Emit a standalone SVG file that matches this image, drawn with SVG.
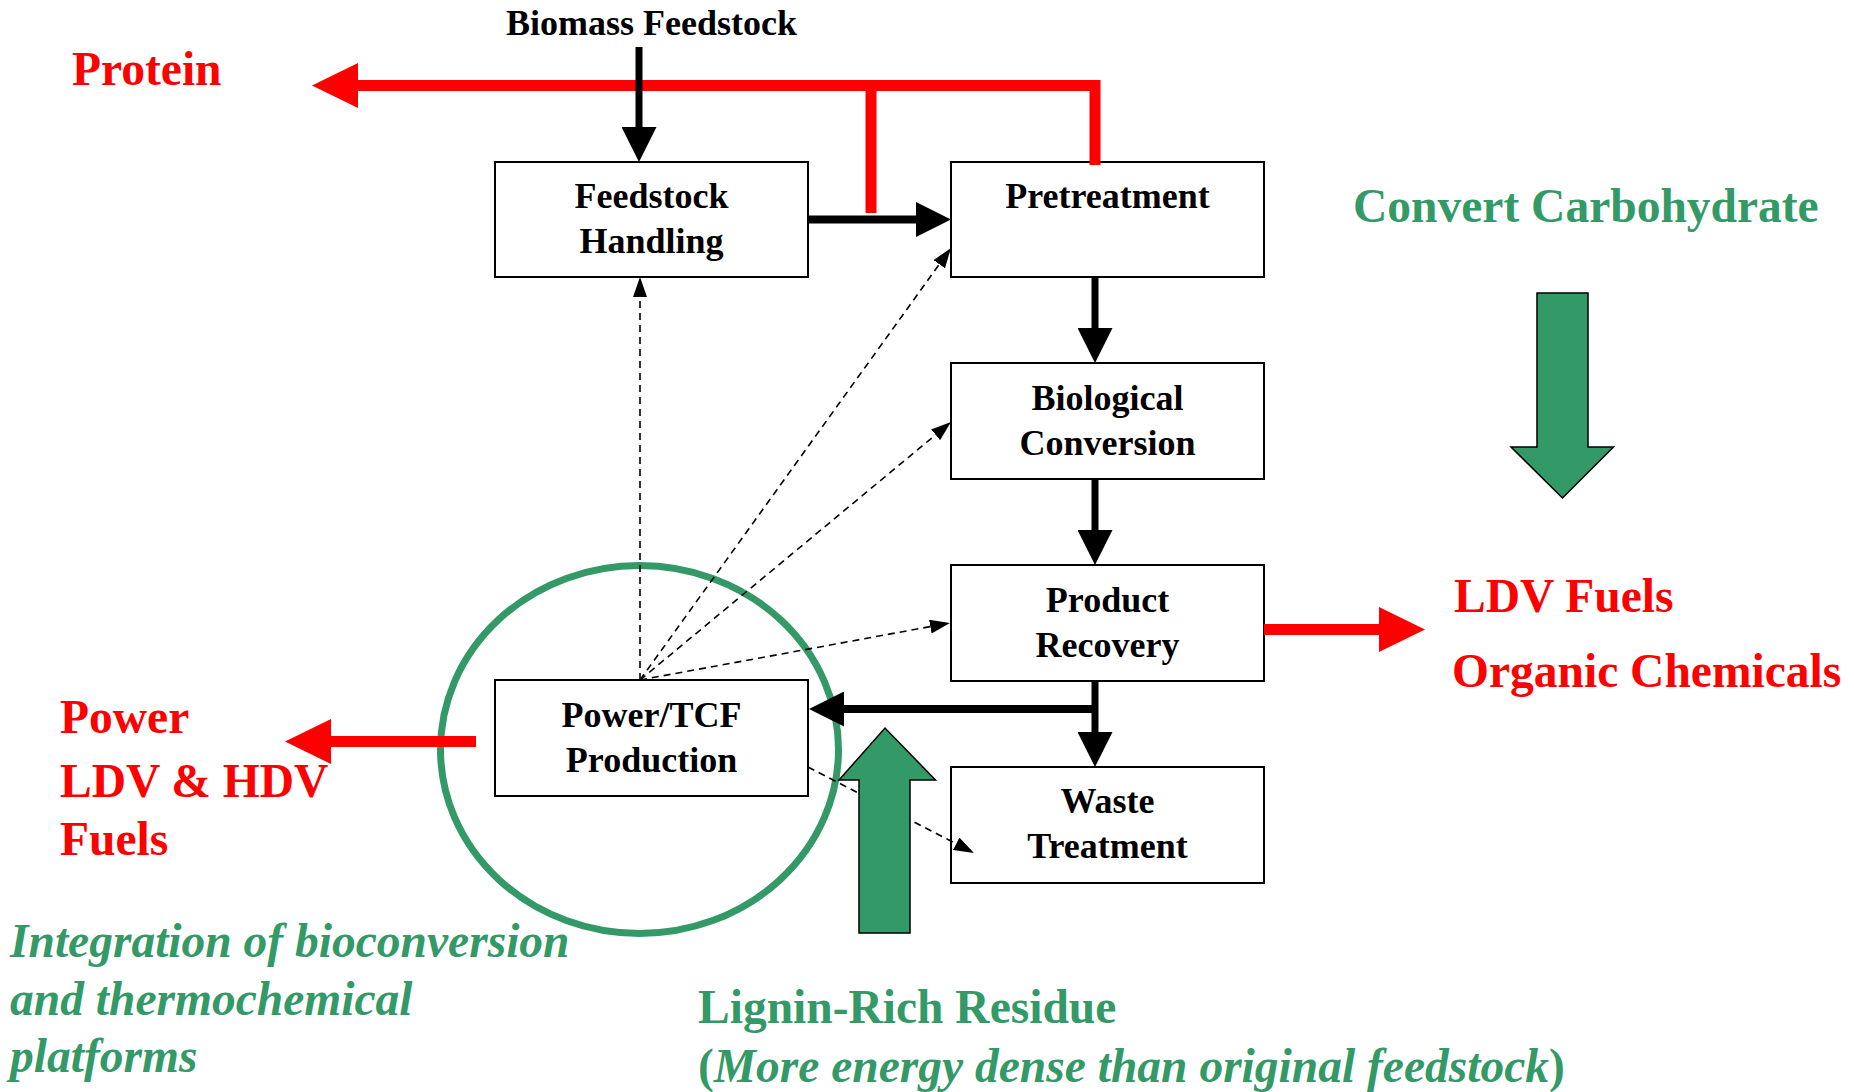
<svg xmlns="http://www.w3.org/2000/svg" width="1854" height="1092" viewBox="0 0 1854 1092">
<style>
.box{fill:#fff;stroke:#000;stroke-width:2}
.bt{font-family:"Liberation Serif","Times New Roman",serif;font-weight:bold;font-size:36px;fill:#000;text-anchor:middle}
.red{font-family:"Liberation Serif","Times New Roman",serif;font-weight:bold;font-size:47.5px;fill:#ff0000}
.grn{font-family:"Liberation Serif","Times New Roman",serif;font-weight:bold;font-size:47.5px;fill:#339966}
.it{font-style:italic}
.up{font-style:normal}
.solid{fill:none;stroke:#000;stroke-width:8}
.thin{fill:none;stroke:#000;stroke-width:7}
.rline{fill:none;stroke:#ff0000;stroke-width:11}
.dash{fill:none;stroke:#000;stroke-width:1.6;stroke-dasharray:7 5}
.garrow{fill:#339966;stroke:#000;stroke-width:1.5}
</style>
<defs>
<marker id="ab" viewBox="0 0 35 35" refX="0" refY="17.5" markerWidth="35" markerHeight="35" markerUnits="userSpaceOnUse" orient="auto">
<path d="M0,0 L35,17.5 L0,35 z" fill="#000"/>
</marker>
<marker id="ar" viewBox="0 0 46 45" refX="0" refY="22.5" markerWidth="46" markerHeight="45" markerUnits="userSpaceOnUse" orient="auto">
<path d="M0,0 L46,22.5 L0,45 z" fill="#ff0000"/>
</marker>
<marker id="ad" viewBox="0 0 20 14" refX="0" refY="7" markerWidth="20" markerHeight="14" markerUnits="userSpaceOnUse" orient="auto">
<path d="M0,0 L20,7 L0,14 z" fill="#000"/>
</marker>
</defs>
<rect width="1854" height="1092" fill="#fff"/>

<g id="feedstock-handling">
<rect class="box" x="495" y="162" width="313" height="115"/>
<text class="bt" x="651.5" y="208">Feedstock</text>
<text class="bt" x="651.5" y="253">Handling</text>
</g>
<g id="pretreatment">
<rect class="box" x="951" y="162" width="313" height="115"/>
<text class="bt" x="1107.5" y="208">Pretreatment</text>
</g>
<g id="biological-conversion">
<rect class="box" x="951" y="363" width="313" height="116"/>
<text class="bt" x="1107.5" y="410">Biological</text>
<text class="bt" x="1107.5" y="455">Conversion</text>
</g>
<g id="product-recovery">
<rect class="box" x="951" y="565" width="313" height="116"/>
<text class="bt" x="1107.5" y="612">Product</text>
<text class="bt" x="1107.5" y="657">Recovery</text>
</g>
<g id="waste-treatment">
<rect class="box" x="951" y="767" width="313" height="116"/>
<text class="bt" x="1107.5" y="813">Waste</text>
<text class="bt" x="1107.5" y="858">Treatment</text>
</g>
<g id="power-tcf-production">
<rect class="box" x="495" y="680" width="313" height="116"/>
<text class="bt" x="651.5" y="727">Power/TCF</text>
<text class="bt" x="651.5" y="772">Production</text>
</g>

<ellipse id="integration-circle" cx="639.5" cy="749.5" rx="199" ry="184" fill="none" stroke="#339966" stroke-width="7"/>

<g id="connectors">
<line class="dash" x1="640" y1="680" x2="640" y2="297" marker-end="url(#ad)"/>
<line class="dash" x1="640" y1="680" x2="939.3" y2="264.2" marker-end="url(#ad)"/>
<line class="dash" x1="640" y1="680" x2="935.6" y2="434.8" marker-end="url(#ad)"/>
<line class="dash" x1="640" y1="680" x2="930.3" y2="626.6" marker-end="url(#ad)"/>
<line class="dash" x1="808" y1="767" x2="956.2" y2="843.8" marker-end="url(#ad)"/>
<path class="rline" d="M1095,165 L1095,85.5 L358,85.5" marker-end="url(#ar)"/>
<line class="rline" x1="871" y1="85.5" x2="871" y2="213"/>
<line class="thin" x1="639" y1="47" x2="639" y2="127" marker-end="url(#ab)"/>
<line class="solid" x1="808" y1="219.5" x2="916" y2="219.5" marker-end="url(#ab)"/>
<line class="thin" x1="1095" y1="277" x2="1095" y2="328" marker-end="url(#ab)"/>
<line class="thin" x1="1095" y1="479" x2="1095" y2="530" marker-end="url(#ab)"/>
<line class="thin" x1="1095" y1="681" x2="1095" y2="732" marker-end="url(#ab)"/>
<line class="solid" x1="1095" y1="709" x2="844" y2="709" marker-end="url(#ab)"/>
<line class="rline" x1="476" y1="741.5" x2="331" y2="741.5" marker-end="url(#ar)"/>
<line class="rline" x1="1264" y1="629.5" x2="1379" y2="629.5" marker-end="url(#ar)"/>
</g>

<g id="convert-carbohydrate-arrow">
<polygon class="garrow" points="1537,293 1588,293 1588,447 1613.5,447 1562.5,498 1511,447 1537,447"/>
</g>
<g id="lignin-arrow">
<polygon class="garrow" points="859,933 910,933 910,780 935.5,780 885,728 839,780 859,780"/>
</g>

<g id="labels">
<text class="bt" x="651.5" y="35">Biomass Feedstock</text>
<text class="red" x="72" y="85">Protein</text>
<text class="grn" x="1353" y="222">Convert Carbohydrate</text>
<text class="red" x="1454" y="612">LDV Fuels</text>
<text class="red" x="1452" y="687">Organic Chemicals</text>
<text class="red" x="60" y="733">Power</text>
<text class="red" x="60" y="797">LDV &amp; HDV</text>
<text class="red" x="60" y="855">Fuels</text>
<text class="grn it" x="10" y="957">Integration of bioconversion</text>
<text class="grn it" x="10" y="1015">and thermochemical</text>
<text class="grn it" x="10" y="1072">platforms</text>
<text class="grn" x="698" y="1023">Lignin-Rich Residue</text>
<text class="grn" x="698" y="1082"><tspan class="up">(</tspan><tspan class="it">More energy dense than original feedstock</tspan><tspan class="up">)</tspan></text>
</g>
</svg>
